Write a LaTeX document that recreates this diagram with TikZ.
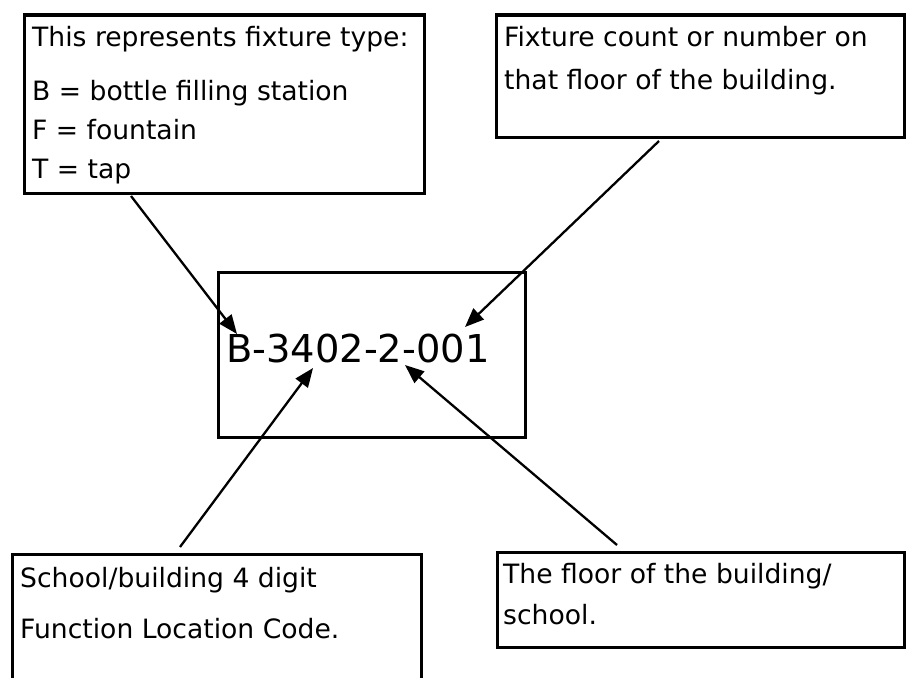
\documentclass[tikz,border=0pt]{standalone}
\usepackage{fontspec}
\setmainfont{DejaVu Sans}
\usetikzlibrary{arrows.meta}
\tikzset{
  box/.style={draw, line width=3.2pt, anchor=north west, inner sep=0pt},
  txt/.style={anchor=base west, inner sep=0pt, font=\fontsize{26.6}{32}\selectfont},
  pointer/.style={-{Triangle[length=19pt,width=15pt]}, line width=2.3pt},
}

\begin{document}
\begin{tikzpicture}[x=1pt,y=-1pt]
    \useasboundingbox (0,0) rectangle (907,677);
    \node[box, minimum width=400, minimum height=178] (types) at (22.5,13.5) {};
    \node[box, minimum width=408, minimum height=122] (count) at (494.5,13.5) {};
    \node[box, minimum width=307, minimum height=165] (code) at (216.5,270.5) {};
    \node[box, minimum width=409, minimum height=160] (bldg) at (10.5,552.5) {};
    \node[box, minimum width=407, minimum height=95] (floor) at (495.5,550.5) {};

    \node[txt] (typesA) at (32,47) {This represents fixture type:};
    \node[txt] (typesB) at (32,100) {B = bottle filling station};
    \node[txt] (typesF) at (32,139) {F = fountain};
    \node[txt] (typesT) at (32,178) {T = tap};
    \node[txt] (countA) at (504,47) {Fixture count or number on};
    \node[txt] (countB) at (504,89) {that floor of the building.};
    \node[txt, font=\fontsize{38.4}{44}\selectfont] (codetxt) at (226,362) {B-3402-2-001};
    \node[txt] (bldgA) at (20,587) {School/building 4 digit};
    \node[txt] (bldgB) at (20,638) {Function Location Code.};
    \node[txt] (floorA) at (503,583) {The floor of the building/};
    \node[txt] (floorB) at (503,624) {school.};

    \coordinate (typesfoot) at (131,196);
    \coordinate (countfoot) at (659,141);
    \coordinate (bldghead) at (180,547);
    \coordinate (floorhead) at (617,545);
    \coordinate (tipB) at (237,334);
    \coordinate (tipNum) at (465,327);
    \coordinate (tipBldg) at (313,368);
    \coordinate (tipFloor) at (405,365);

    \draw[pointer] (typesfoot) -- (tipB);
    \draw[pointer] (countfoot) -- (tipNum);
    \draw[pointer] (bldghead) -- (tipBldg);
    \draw[pointer] (floorhead) -- (tipFloor);
\end{tikzpicture}
\end{document}
